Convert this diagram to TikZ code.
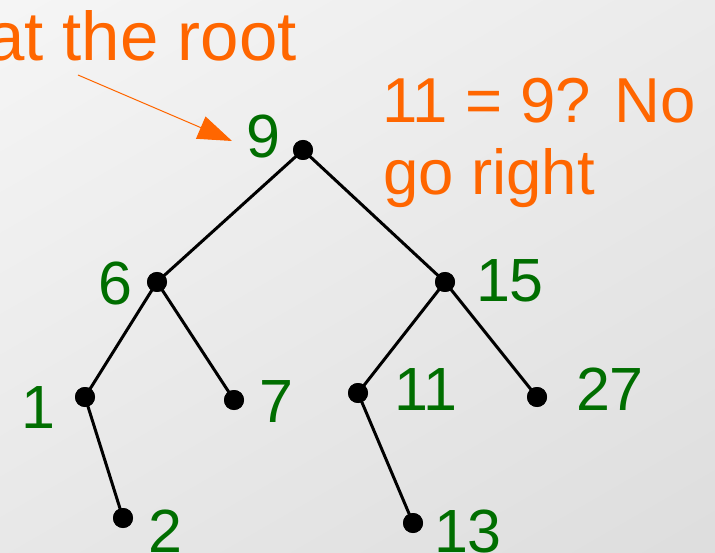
\documentclass[tikz,border=0pt]{standalone}
\usepackage{fontspec}
\setmainfont{Liberation Sans}
\usetikzlibrary{arrows.meta}
\definecolor{ora}{HTML}{FF6600}
\definecolor{grn}{HTML}{006E00}
\begin{document}
\begin{tikzpicture}[x=1pt,y=-1pt,
  dot/.style={circle,fill=black,inner sep=0pt,minimum size=20pt},
  lbl/.style={text=grn,font=\fontsize{61}{72}\selectfont,inner sep=0pt,anchor=base},
  note/.style={text=ora,inner sep=0pt,anchor=base west,font=\fontsize{63.5}{72}\selectfont},
  edge/.style={line width=3pt,draw=black}]
\useasboundingbox (0,0) rectangle (715,553);
\clip (0,0) rectangle (715,553);
\shade[top color=black!4, bottom color=black!13, shading angle=30] (-100,-100) rectangle (815,653);
% dots
\node[dot] (n9)  at (303,150) {};
\node[dot] (n6)  at (157,282) {};
\node[dot] (n15) at (445,282) {};
\node[dot] (n1)  at (85,397) {};
\node[dot] (n7)  at (234,400) {};
\node[dot] (n11) at (358,393) {};
\node[dot] (n27) at (537,397) {};
\node[dot] (n2)  at (123,518) {};
\node[dot] (n13) at (413,523) {};
% edges
\draw[edge] (n9.center) -- (n6.center);
\draw[edge] (n9.center) -- (n15.center);
\draw[edge] (n6.center) -- (n1.center);
\draw[edge] (n6.center) -- (n7.center);
\draw[edge] (n1.center) -- (n2.center);
\draw[edge] (n15.center) -- (n11.center);
\draw[edge] (n15.center) -- (n27.center);
\draw[edge] (n11.center) -- (n13.center);
% redraw dots on top
\foreach \n in {n9,n6,n15,n1,n7,n11,n27,n2,n13}
  \fill (\n) circle (10pt);
% labels
\node[lbl] (l9)  at (263,158) {9};
\node[lbl] (l6)  at (115,305) {6};
\node[lbl] (l15) at (510,302) {15};
\node[lbl] (l1)  at (38,428) {1};
\node[lbl] (l7)  at (276,422) {7};
\node[lbl] (l11) at (426,410) {11};
\node[lbl] (l27) at (610,410) {27};
\node[lbl] (l2)  at (165,552) {2};
\node[lbl] (l13) at (468,552) {13};
% notes
\node[text=ora,inner sep=0pt,anchor=base east,font=\fontsize{69}{80}\selectfont] (root) at (297,61) {at the root};
\node[note] (q1) at (382,123) {11 = 9? No};
\node[note] (q2) at (383,195) {go right};
% arrow
\coordinate (as) at (78,75);
\coordinate (ae) at (232,141);
\draw[ora,line width=1pt,-{Triangle[length=34pt,width=24pt]}] (as) -- (ae);
\end{tikzpicture}
\end{document}
